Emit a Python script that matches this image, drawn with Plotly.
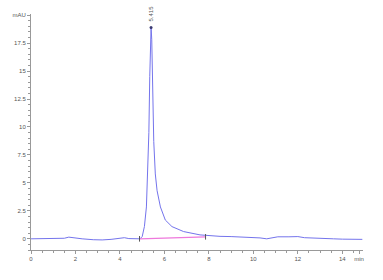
import plotly.graph_objects as go

# chromatogram signal (min, mAU)
time_min = [0.0, 0.5, 1.0, 1.5, 1.7, 1.9, 2.3, 2.8, 3.2, 3.6, 4.0, 4.2, 4.4, 4.7, 4.9,
            5.0, 5.1, 5.19, 5.25, 5.3, 5.34, 5.37, 5.40, 5.43, 5.46, 5.48, 5.52,
            5.59, 5.67, 5.82, 6.04, 6.34, 6.86, 7.6, 8.0, 8.5, 9.0, 9.5, 10.0,
            10.3, 10.6, 10.8, 11.1, 11.6, 12.0, 12.3, 12.7, 13.2, 13.6, 14.0, 14.5, 14.9]
signal_mau = [0.0, 0.0, 0.02, 0.05, 0.15, 0.08, 0.0, -0.08, -0.1, -0.05, 0.02, 0.1, 0.02, -0.02, 0.0,
              0.2, 1.1, 2.85, 6.0, 9.5, 14.5, 17.8, 18.9, 17.8, 14.0, 10.5, 8.7,
              5.8, 4.3, 2.85, 1.68, 1.09, 0.65, 0.35, 0.28, 0.22, 0.2, 0.16, 0.12,
              0.08, 0.0, 0.08, 0.18, 0.18, 0.2, 0.1, 0.05, 0.05, 0.0, -0.03, -0.05, -0.05]

# integration baseline
baseline_x = [4.88, 7.85]
baseline_y = [0.0, 0.18]

peak_time = 5.40
peak_height = 18.9
peak_label = "5.415"

x_tickvals = [0, 2, 4, 6, 8, 10, 12, 14, 14.75]
x_ticktext = ["0", "2", "4", "6", "8", "10", "12", "14", "min"]
y_tickvals = [0, 2.5, 5, 7.5, 10, 12.5, 15, 17.5, 20]
y_ticktext = ["0", "2.5", "5", "7.5", "10", "12.5", "15", "17.5", "mAU"]

fig = go.Figure()
fig.add_trace(go.Scatter(x=time_min, y=signal_mau, mode="lines",
                         line=dict(color="#7474ec", width=1), hoverinfo="skip"))
fig.add_trace(go.Scatter(x=baseline_x, y=baseline_y, mode="lines+markers",
                         line=dict(color="#ee78dc", width=1.2),
                         marker=dict(symbol="line-ns", size=4, line=dict(color="#555", width=1)),
                         hoverinfo="skip"))
fig.add_trace(go.Scatter(x=[peak_time], y=[peak_height], mode="markers",
                         marker=dict(color="#3a3a70", size=3), hoverinfo="skip"))
fig.add_annotation(x=peak_time, y=peak_height, yshift=4, text=peak_label, textangle=-90,
                   showarrow=False, yanchor="bottom", xanchor="center",
                   font=dict(size=6, color="#555", family="Liberation Sans"))

axis_common = dict(showgrid=False, zeroline=False, showline=True, linecolor="#999",
                   linewidth=1, ticks="outside", ticklen=3, tickcolor="#999",
                   tickfont=dict(size=6, color="#555", family="Liberation Sans"))
fig.update_xaxes(range=[0, 14.93], tickvals=x_tickvals, ticktext=x_ticktext,
                 minor=dict(dtick=0.5, ticks="outside", ticklen=2, tickcolor="#999"),
                 **axis_common)
fig.update_yaxes(range=[-1, 20.1], tickvals=y_tickvals, ticktext=y_ticktext,
                 minor=dict(dtick=0.5, ticks="outside", ticklen=2, tickcolor="#999"),
                 **axis_common)
fig.update_layout(width=383, height=280, margin=dict(l=28, r=20, t=12, b=30),
                  plot_bgcolor="white", paper_bgcolor="white", showlegend=False)
fig.write_html("out.html")
